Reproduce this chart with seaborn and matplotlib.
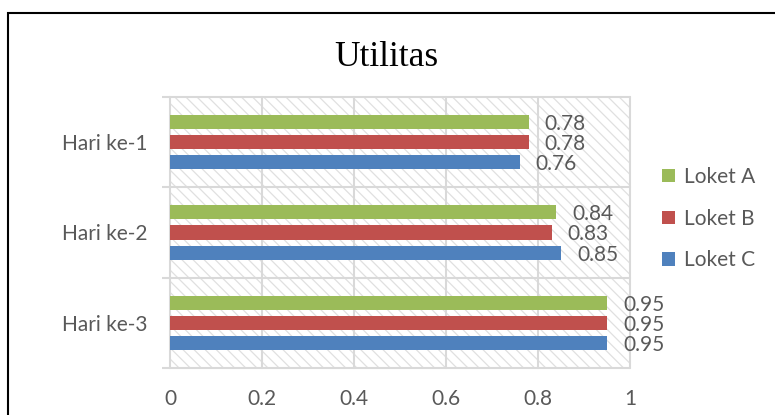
import matplotlib
matplotlib.use("Agg")
import matplotlib.pyplot as plt
from matplotlib.patches import Rectangle
from matplotlib.ticker import FixedLocator, NullFormatter
import seaborn as sns
import pandas as pd

# Utilization per day and counter
hari = ["Hari ke-1", "Hari ke-2", "Hari ke-3"]
loket = ["Loket A", "Loket B", "Loket C"]
loket_a = [0.78, 0.84, 0.95]
loket_b = [0.78, 0.83, 0.95]
loket_c = [0.76, 0.85, 0.95]
x_ticks = [0, 0.2, 0.4, 0.6, 0.8, 1]
x_tick_labels = ["0", "0.2", "0.4", "0.6", "0.8", "1"]

df = pd.DataFrame({
    "hari": hari * 3,
    "loket": [loket[0]] * 3 + [loket[1]] * 3 + [loket[2]] * 3,
    "utilitas": loket_a + loket_b + loket_c,
})

colors = ["#9BBB59", "#C0504D", "#4F81BD"]
text_gray = "#595959"
grid_gray = "#D9D9D9"
fs = 15

sns.set_theme(style="white")
plt.rcParams["font.family"] = ["Lato", "DejaVu Sans"]
plt.rcParams["hatch.linewidth"] = 0.9

fig = plt.figure(figsize=(7.75, 4.15), dpi=100)
ax = fig.add_axes([170 / 775, 1 - 368 / 415, 460 / 775, 271 / 415])

# hatched plot-area background
ax.add_patch(Rectangle((0, 0), 1, 1, transform=ax.transAxes, facecolor="white",
                       edgecolor="#E0E0E0", hatch="\\\\\\", lw=0, zorder=0.1))

sns.barplot(data=df, x="utilitas", y="hari", hue="loket", hue_order=loket,
            order=hari, orient="h", palette=colors, width=0.667, gap=0.3,
            legend=False, ax=ax, zorder=3, saturation=1,
            edgecolor="none", linewidth=0)

for cont in ax.containers:
    for t in ax.bar_label(cont, fmt="{:.2f}", padding=11.5, color=text_gray,
                          fontsize=fs):
        t.set_verticalalignment("center_baseline")

ax.set_xlim(0, 1)
ax.set_ylim(2.5, -0.5)
ax.set_xticks(x_ticks)
ax.set_xticklabels(x_tick_labels)
ax.tick_params(axis="x", length=0, pad=15, labelsize=fs, labelcolor=text_gray)

# category boundaries as major ticks, names on minor ticks
ax.yaxis.set_major_locator(FixedLocator([-0.5, 0.5, 1.5, 2.5]))
ax.yaxis.set_major_formatter(NullFormatter())
ax.yaxis.set_minor_locator(FixedLocator([0, 1, 2]))
ax.set_yticklabels(hari, minor=True)
ax.tick_params(axis="y", which="major", length=6, width=1.5, color=grid_gray, left=True)
ax.tick_params(axis="y", which="minor", length=0, pad=16.5, labelsize=fs,
               labelcolor=text_gray, left=True)

ax.set_axisbelow(True)
ax.grid(True, axis="both", which="major", color=grid_gray, lw=1.5, zorder=0.5)
for gl in ax.get_xgridlines() + ax.get_ygridlines():
    gl.set_clip_on(False)
for s in ax.spines.values():
    s.set_visible(False)
ax.set_xlabel("")
ax.set_ylabel("")

fig.legend(handles=ax.containers, labels=loket, loc="center left",
           bbox_to_anchor=(662 / 775, 1 - 218.5 / 415), frameon=False,
           fontsize=fs, labelcolor=text_gray, handlelength=0.6,
           handleheight=0.6, handletextpad=0.45, labelspacing=1.05,
           borderpad=0, borderaxespad=0)

fig.text(386 / 775, 1 - 57 / 415, "Utilitas", family="Liberation Serif",
         fontsize=25.5, ha="center", va="center", color="black")

# chart frame
fig.add_artist(Rectangle((8 / 775, -0.2), 1.2, 1 - 13 / 415 + 0.2,
                         transform=fig.transFigure, fill=False,
                         edgecolor="black", lw=1.5))

fig.savefig("out.png", dpi=100, facecolor="white")
